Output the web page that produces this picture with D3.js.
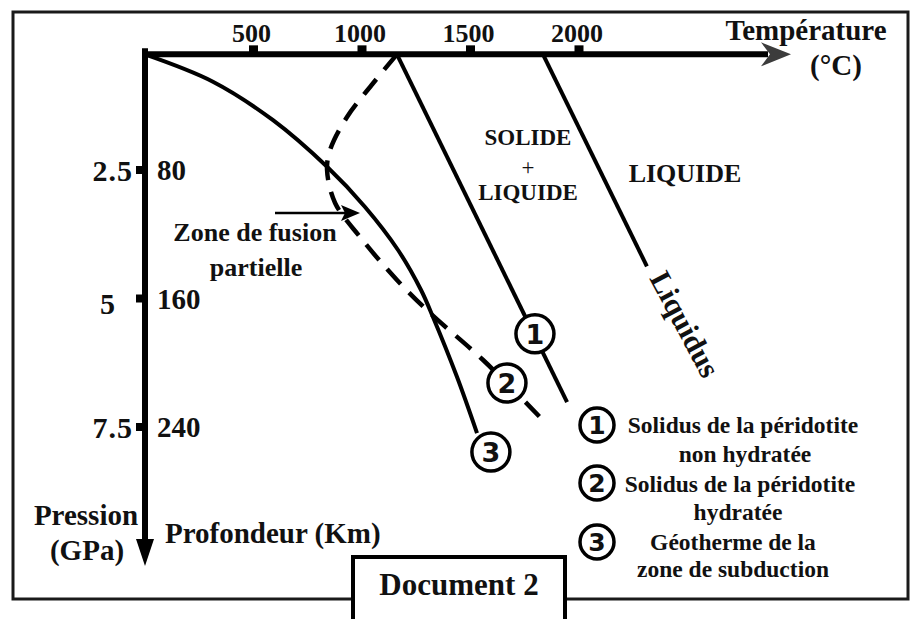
<!DOCTYPE html>
<html>
<head>
<meta charset="utf-8">
<script src="https://cdn.jsdelivr.net/npm/d3@7"></script>
<style>
  html, body { margin: 0; padding: 0; background: #fff; }
  svg { display: block; }
  text { font-family: "Liberation Serif", "Times New Roman", serif; font-weight: bold; fill: #111; }
  .num { font-family: "DejaVu Sans", "Open Sans", sans-serif; font-weight: bold; }
</style>
</head>
<body>
<div id="chart"></div>
<script>
// ---- data (temperature in °C, depth in km) ----
var tempTicks      = [500, 1000, 1500, 2000];
var depthTicks     = [80, 160, 240];
var pressureLabels = ['2.5', '5', '7.5'];
var surfaceDepth   = 8;   // depth at which the temperature axis is drawn

// ③ geotherme de la zone de subduction
var geothermT     = [0, 313, 590, 839, 1014, 1166, 1272, 1327, 1438, 1530];
var geothermDepth = [8, 25, 49, 78, 103, 129.8, 154.7, 171.5, 208.9, 243.8];

// ② solidus de la péridotite hydratée (dashed)
var wetSolidusT     = [1161, 1051, 931, 853, 839, 876, 991, 1161, 1313, 1558, 1820];
var wetSolidusDepth = [8, 26, 47, 67.5, 80, 100.5, 121.7, 148.5, 169, 198.3, 233.8];

// ① solidus de la péridotite non hydratée
var drySolidusT     = [1161, 1945];
var drySolidusDepth = [8, 224.5];

// liquidus
var liquidusT     = [1834, 2313];
var liquidusDepth = [8, 140];

// circled markers at the end of the curves
var markerNum   = ['1', '2', '3'];
var markerT     = [1797, 1668, 1594];
var markerDepth = [182, 212.6, 255.6];

var legendLines = [
  ['Solidus de la péridotite', 'non hydratée'],
  ['Solidus de la péridotite', 'hydratée'],
  ['Géotherme de la', 'zone de subduction']
];

// ---- drawing ----
var W = 918, H = 619;
var svg = d3.select('#chart').append('svg').attr('width', W).attr('height', H);

var x = d3.scaleLinear().domain([0, 2000]).range([145, 579]);
var y = d3.scaleLinear().domain([0, 240]).range([41.5, 427]);
var axisY = y(surfaceDepth), axisX = x(0);

// outer frame
svg.append('rect').attr('x', 13).attr('y', 12).attr('width', 895).attr('height', 587)
  .attr('fill', 'none').attr('stroke', '#1a1a1a').attr('stroke-width', 3);

// curves
var line = d3.line().x(function(d){ return x(d[0]); }).y(function(d){ return y(d[1]); });
var smooth = d3.line().x(function(d){ return x(d[0]); }).y(function(d){ return y(d[1]); }).curve(d3.curveCatmullRom.alpha(0.5));

svg.append('path').datum(d3.zip(geothermT, geothermDepth))
  .attr('d', smooth).attr('fill', 'none').attr('stroke', '#000').attr('stroke-width', 4);
svg.append('path').datum(d3.zip(wetSolidusT, wetSolidusDepth))
  .attr('d', smooth).attr('fill', 'none').attr('stroke', '#000').attr('stroke-width', 4.5)
  .attr('stroke-dasharray', '20,12');
svg.append('path').datum(d3.zip(drySolidusT, drySolidusDepth))
  .attr('d', line).attr('fill', 'none').attr('stroke', '#000').attr('stroke-width', 4);
svg.append('path').datum(d3.zip(liquidusT, liquidusDepth))
  .attr('d', line).attr('fill', 'none').attr('stroke', '#000').attr('stroke-width', 4);

// temperature axis
svg.append('line').attr('x1', axisX - 2).attr('x2', 768).attr('y1', axisY).attr('y2', axisY)
  .attr('stroke', '#000').attr('stroke-width', 6);
svg.append('path').attr('d', 'M791,' + axisY + ' L761,' + (axisY - 12) + ' L770,' + axisY + ' L761,' + (axisY + 12) + ' Z')
  .attr('fill', '#3c3c3c');
svg.selectAll('rect.xt').data(tempTicks).join('rect').attr('class', 'xt')
  .attr('x', function(d){ return x(d) - 4.5; }).attr('y', axisY - 9).attr('width', 9).attr('height', 10).attr('fill', '#000');
svg.selectAll('text.xl').data(tempTicks).join('text').attr('class', 'xl')
  .attr('x', function(d){ return x(d) - 2; }).attr('y', 42).attr('text-anchor', 'middle')
  .attr('font-size', 26).text(function(d){ return d; });
svg.append('text').attr('x', 806).attr('y', 40).attr('text-anchor', 'middle').attr('font-size', 29).text('Température');
svg.append('text').attr('x', 836).attr('y', 75).attr('text-anchor', 'middle').attr('font-size', 29).text('(°C)');

// depth axis
svg.append('line').attr('x1', axisX).attr('x2', axisX).attr('y1', axisY - 6).attr('y2', 545)
  .attr('stroke', '#000').attr('stroke-width', 6);
svg.append('path').attr('d', 'M' + axisX + ',566 L' + (axisX - 9) + ',539 L' + (axisX + 9) + ',539 Z').attr('fill', '#000');
svg.selectAll('rect.yt').data(depthTicks).join('rect').attr('class', 'yt')
  .attr('x', axisX - 9).attr('y', function(d){ return y(d) - 4; }).attr('width', 10).attr('height', 8).attr('fill', '#000');
svg.selectAll('text.yl').data(depthTicks).join('text').attr('class', 'yl')
  .attr('x', 157).attr('y', function(d){ return y(d) + 10; }).attr('font-size', 29).text(function(d){ return d; });
svg.selectAll('text.pl').data(pressureLabels).join('text').attr('class', 'pl')
  .attr('x', function(d){ return d === '5' ? 108 : 133; })
  .attr('y', function(d, i){ return y(depthTicks[i]) + (d === '5' ? 15 : 11); })
  .attr('text-anchor', function(d){ return d === '5' ? 'middle' : 'end'; })
  .attr('font-size', 30).attr('letter-spacing', 1).text(function(d){ return d; });
svg.append('text').attr('x', 86).attr('y', 525).attr('text-anchor', 'middle').attr('font-size', 29).text('Pression');
svg.append('text').attr('x', 87).attr('y', 560).attr('text-anchor', 'middle').attr('font-size', 29).text('(GPa)');
svg.append('text').attr('x', 165).attr('y', 543).attr('font-size', 29).text('Profondeur (Km)');

// region labels
svg.append('text').attr('x', 528).attr('y', 145).attr('text-anchor', 'middle').attr('font-size', 23).text('SOLIDE');
svg.append('text').attr('x', 528).attr('y', 175).attr('text-anchor', 'middle').attr('font-size', 23).style('font-weight', 'normal').text('+');
svg.append('text').attr('x', 528).attr('y', 200).attr('text-anchor', 'middle').attr('font-size', 23).text('LIQUIDE');
svg.append('text').attr('x', 685).attr('y', 182).attr('text-anchor', 'middle').attr('font-size', 26).text('LIQUIDE');
svg.append('text').attr('transform', 'translate(676,329) rotate(62)').attr('text-anchor', 'middle')
  .attr('font-size', 30).text('Liquidus');

// zone de fusion partielle + arrow
svg.append('text').attr('x', 255).attr('y', 241).attr('text-anchor', 'middle').attr('font-size', 26).text('Zone de fusion');
svg.append('text').attr('x', 256).attr('y', 276).attr('text-anchor', 'middle').attr('font-size', 26).text('partielle');
svg.append('line').attr('x1', 275).attr('x2', 346).attr('y1', 213).attr('y2', 213).attr('stroke', '#000').attr('stroke-width', 2.5);
svg.append('path').attr('d', 'M360,213 L341,205 L345,213 L341,221 Z').attr('fill', '#000');

// circled markers on curves
var mk = svg.selectAll('g.mk').data(markerNum).join('g').attr('class', 'mk')
  .attr('transform', function(d, i){ return 'translate(' + x(markerT[i]) + ',' + y(markerDepth[i]) + ')'; });
mk.append('circle').attr('r', 19).attr('fill', '#fff').attr('stroke', '#000').attr('stroke-width', 3.5);
mk.append('text').attr('class', 'num').attr('text-anchor', 'middle').attr('y', 10).attr('font-size', 27).text(function(d){ return d; });

// legend
var lg = svg.selectAll('g.lg').data(legendLines).join('g').attr('class', 'lg')
  .attr('transform', function(d, i){ return 'translate(0,' + [0, 58, 117][i] + ')'; });
lg.append('circle').attr('cx', 597).attr('cy', 425).attr('r', 17).attr('fill', '#fff').attr('stroke', '#000').attr('stroke-width', 3.5);
lg.append('text').attr('class', 'num').attr('x', 597).attr('y', 434).attr('text-anchor', 'middle').attr('font-size', 25)
  .text(function(d, i){ return markerNum[i]; });
lg.append('text').attr('x', function(d, i){ return [743, 740, 733][i]; }).attr('y', function(d, i){ return [433, 434, 433][i]; })
  .attr('text-anchor', 'middle').attr('font-size', 23.5).text(function(d){ return d[0]; });
lg.append('text').attr('x', function(d, i){ return [745, 738, 733][i]; }).attr('y', function(d, i){ return [462, 462, 460][i]; })
  .attr('text-anchor', 'middle').attr('font-size', 23.5).text(function(d){ return d[1]; });

// Document 2 box
svg.append('rect').attr('x', 353).attr('y', 557).attr('width', 212).attr('height', 70)
  .attr('fill', '#fff').attr('stroke', '#000').attr('stroke-width', 4);
svg.append('text').attr('x', 459).attr('y', 595).attr('text-anchor', 'middle').attr('font-size', 31).text('Document 2');
</script>
</body>
</html>
